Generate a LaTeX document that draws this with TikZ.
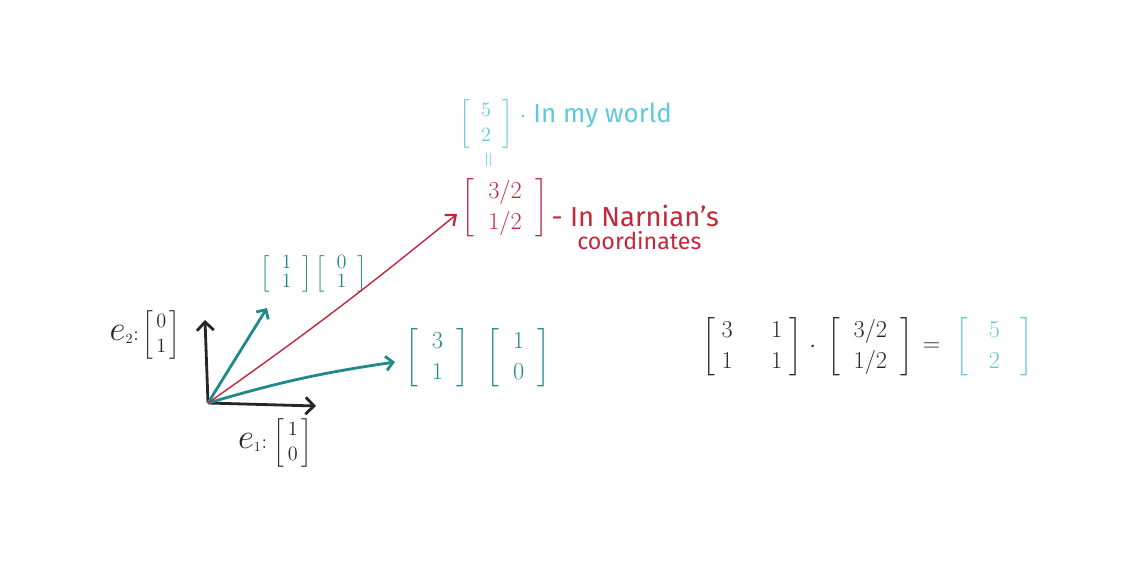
\documentclass[tikz,border=0pt]{standalone}
\usepackage{amsmath}
\usepackage{fontspec}
\setmainfont{Fira Sans}
\usetikzlibrary{arrows.meta,positioning}
\definecolor{tealvec}{RGB}{32,138,138}
\definecolor{skyvec}{RGB}{96,200,222}
\definecolor{narred}{RGB}{196,38,58}
\newcommand{\vcol}[2]{\begin{bmatrix}\,#1\,\\ \,#2\,\end{bmatrix}}
\newcommand{\wcol}[2]{\begin{bmatrix}\;\;#1\;\;\\ \;\;#2\;\;\end{bmatrix}}
\begin{document}
\begin{tikzpicture}[x=0.025cm, y=-0.025cm, node distance=0.1cm]
    % Define styles
    \tikzstyle{basis} = [draw=black!85, line width=2pt, -{Straight Barb[length=6pt,width=12pt]}]
    \tikzstyle{narnia} = [draw=tealvec, line width=2pt, -{Straight Barb[length=5pt,width=10pt]}]
    \tikzstyle{target} = [draw=narred, line width=1pt, -{Straight Barb[length=6pt,width=10pt,line width=1.6pt]}]
    \tikzstyle{label} = [inner sep=1pt, font=\Large]
    \tikzstyle{eqpart} = [inner sep=1pt, font=\LARGE, text=black!85]
    \useasboundingbox (0,0) rectangle (1130,568);

    % Nodes
    \coordinate (o) at (208,403);
    \coordinate (e1end) at (316,406);
    \coordinate (e2end) at (205,320);
    \coordinate (b1end) at (267,308);
    \coordinate (b2end) at (395,362);
    \coordinate (vend) at (457,214);

    \node [label, text=black!85] (e2lab) at (145,335) {{\Huge$e$}$_2{:}\vcol{0}{1}$};
    \node [label, text=black!85] (e1lab) at (275,443) {{\Huge$e$}$_1{:}\,\vcol{1}{0}$};
    \node [label, text=tealvec] (b1lab) at (314,274) {\renewcommand{\arraystretch}{0.75}$\wcol{1}{1}\wcol{0}{1}$};
    \node [label, text=tealvec, font=\LARGE] (b2lab) at (478,358) {$\wcol{3}{1}\;\;\wcol{1}{0}$};
    \node [label, text=narred, font=\LARGE] (vnar) at (505,208) {$\wcol{3/2}{1/2}$};
    \node [text=narred, anchor=west, font=\fontsize{19.5}{23}\selectfont, inner sep=1pt] (narlab) at (550,216) {- In Narnian's};
    \node [text=narred, font=\fontsize{16.5}{20}\selectfont, inner sep=1pt, below=0.02cm of narlab, xshift=0.1cm] (coordlab) {coordinates};
    \node [text=skyvec, rotate=90, font=\Large] (eqsign) at (490,160) {$=$};
    \node [label, text=skyvec] (vmine) at (486,124) {$\wcol{5}{2}$};
    \node [text=skyvec, anchor=west, font=\fontsize{18.5}{22}\selectfont, inner sep=1pt] (minelab) at (518,116) {$\cdot$ In my world};

    \node [eqpart] (m1) at (752,347) {$\begin{bmatrix}\;3 & \quad 1\;\\ \;1 & \quad 1\;\end{bmatrix}$};
    \node [eqpart, right=0.1cm of m1] (dot) {$\cdot$};
    \node [eqpart, right=0.2cm of dot] (m2) {$\wcol{3/2}{1/2}$};
    \node [eqpart, right=0.15cm of m2] (eq) {$=$};
    \node [eqpart, text=skyvec, right=0.3cm of eq] (m3) {$\wcol{\;5\;}{\;2\;}$};

    % Arrows
    \draw [basis] (o) -- (e1end);
    \draw [basis] (o) -- (e2end);
    \draw [narnia] (o) -- (b1end);
    \draw [narnia] (o) to[bend left=4] (b2end);
    \draw [target] (o) to[bend right=2] (vend);
\end{tikzpicture}
\end{document}
